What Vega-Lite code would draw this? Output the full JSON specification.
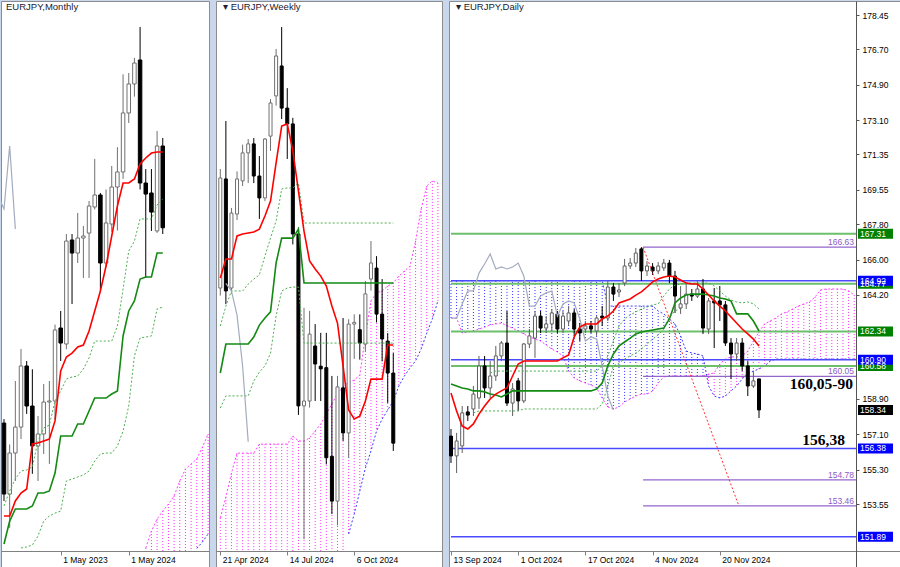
{
"$schema": "https://vega.github.io/schema/vega-lite/v6.json",
"padding": 0,
"background": "#c8d7ec",
"spacing": 7,
"bounds": "flush",
"config": {
 "view": {"stroke": "#8c8c8c", "fill": "#ffffff"},
 "scale": {"continuousPadding": 0},
 "axis": {"grid": false, "labelFont": "Liberation Sans", "labelFontSize": 8.5, "labelColor": "#000000", "domainColor": "#808080", "tickColor": "#808080", "titleFont": "Liberation Sans"},
 "text": {"font": "Liberation Sans"},
 "title": {"font": "Liberation Sans", "fontSize": 9.5, "fontWeight": "normal", "color": "#202030", "anchor": "start", "offset": -10, "frame": "group"}
},
"datasets": {
 "mc": [
  {"i":0,"o":141.72,"h":142.06,"l":135.09,"c":135.68},
  {"i":1,"o":135.68,"h":139.9,"l":132.8,"c":139.17},
  {"i":2,"o":139.17,"h":145.3,"l":136.79,"c":141.38},
  {"i":3,"o":141.38,"h":148.02,"l":140.36,"c":146.58},
  {"i":4,"o":146.58,"h":147.0,"l":142.5,"c":143.17},
  {"i":5,"o":143.17,"h":146.3,"l":137.4,"c":139.77},
  {"i":6,"o":139.77,"h":142.32,"l":136.79,"c":140.79},
  {"i":7,"o":140.79,"h":145.04,"l":139.09,"c":143.51},
  {"i":8,"o":143.51,"h":145.3,"l":138.24,"c":143.6},
  {"i":9,"o":143.6,"h":150.1,"l":142.0,"c":149.64},
  {"i":10,"o":149.81,"h":151.26,"l":147.0,"c":148.53},
  {"i":11,"o":148.45,"h":157.81,"l":148.0,"c":157.21},
  {"i":12,"o":157.3,"h":157.81,"l":151.85,"c":156.19},
  {"i":13,"o":156.19,"h":159.6,"l":155.34,"c":157.47},
  {"i":14,"o":157.47,"h":158.49,"l":154.07,"c":157.64},
  {"i":15,"o":157.89,"h":160.62,"l":154.07,"c":160.19},
  {"i":16,"o":160.11,"h":164.2,"l":159.9,"c":161.13},
  {"i":17,"o":161.13,"h":161.3,"l":152.96,"c":155.34},
  {"i":18,"o":155.34,"h":161.6,"l":155.0,"c":158.75},
  {"i":19,"o":158.66,"h":163.6,"l":158.0,"c":161.81},
  {"i":20,"o":161.81,"h":165.2,"l":158.1,"c":163.09},
  {"i":21,"o":163.09,"h":171.4,"l":162.5,"c":168.11},
  {"i":22,"o":168.11,"h":171.51,"l":167.26,"c":170.58},
  {"i":23,"o":170.58,"h":172.8,"l":169.5,"c":172.36},
  {"i":24,"o":172.62,"h":175.43,"l":161.6,"c":162.15},
  {"i":25,"o":162.15,"h":163.34,"l":154.07,"c":161.21},
  {"i":26,"o":161.3,"h":163.34,"l":158.07,"c":159.68},
  {"i":27,"o":158.07,"h":166.58,"l":157.9,"c":165.3},
  {"i":28,"o":165.3,"h":165.98,"l":157.81,"c":158.34}
 ],
 "ml": [
  {"i":-1,"ch":161.0},
  {"i":0,"t":133.81,"k":131.43,"u":134.66,"ch":159.94},
  {"i":1,"t":133.81,"k":133.38,"u":135.94,"ch":165.3},
  {"i":2,"t":135.09,"k":134.41,"u":136.96,"ch":158.24},
  {"i":3,"t":135.77,"k":134.41,"u":137.64,"w":131.09},
  {"i":4,"t":136.11,"k":134.41,"u":137.73,"w":131.17},
  {"i":5,"t":139.94,"k":134.66,"u":137.98,"w":131.34},
  {"i":6,"t":140.02,"k":135.77,"u":140.19,"w":132.11},
  {"i":7,"t":140.19,"k":135.77,"u":141.3,"w":133.38},
  {"i":8,"t":140.36,"k":135.94,"u":141.55,"w":133.81},
  {"i":9,"t":141.9,"k":137.47,"u":143.6,"w":134.06},
  {"i":10,"t":146.15,"k":140.62,"u":144.45,"w":134.23},
  {"i":11,"t":147.34,"k":140.62,"u":145.47,"w":136.79},
  {"i":12,"t":147.68,"k":140.62,"u":145.64,"w":136.96},
  {"i":13,"t":148.19,"k":141.64,"u":145.72,"w":137.13},
  {"i":14,"t":148.36,"k":141.64,"u":146.32,"w":137.3},
  {"i":15,"t":149.55,"k":142.75,"u":147.26,"w":137.64},
  {"i":16,"t":151.26,"k":143.85,"u":148.7,"w":138.49},
  {"i":17,"t":152.96,"k":143.85,"u":148.7,"w":139.09},
  {"i":18,"t":155.09,"k":143.85,"u":148.7,"w":139.17},
  {"i":19,"t":157.64,"k":144.19,"u":148.7,"w":139.17},
  {"i":20,"t":160.19,"k":144.45,"u":149.98,"w":139.77},
  {"i":21,"t":162.15,"k":149.13,"u":153.13,"w":141.04},
  {"i":22,"t":162.15,"k":151.26,"u":156.36,"w":143.17},
  {"i":23,"t":162.49,"k":152.11,"u":157.21,"w":147.43},
  {"i":24,"t":163.77,"k":153.98,"u":159.09,"w":148.96},
  {"i":25,"t":164.28,"k":154.15,"u":159.09,"w":149.04},
  {"i":26,"t":164.7,"k":154.15,"u":159.09,"w":149.13},
  {"i":27,"t":164.79,"k":156.19,"u":160.28,"w":151.43},
  {"i":28,"t":164.79,"k":156.19,"u":160.79,"w":151.6}
 ],
 "mk": [
  {"i":25,"a":131.09,"b":130.83},{"i":26,"a":132.53,"b":130.83},{"i":27,"a":133.55,"b":130.83},
  {"i":28,"a":134.23,"b":130.83},{"i":29,"a":134.83,"b":130.83},{"i":30,"a":135.51,"b":130.83},
  {"i":31,"a":136.79,"b":130.83},{"i":32,"a":137.81,"b":130.83},{"i":33,"a":138.24,"b":130.83},
  {"i":34,"a":138.66,"b":131.05},{"i":35,"a":139.68,"b":131.6},{"i":36,"a":140.79,"b":132.28}
 ],
 "wc": [
  {"i":0,"o":164.71,"h":169.6,"l":164.4,"c":169.23},
  {"i":1,"o":169.19,"h":171.57,"l":164.05,"c":164.59},
  {"i":2,"o":164.71,"h":168.0,"l":164.47,"c":167.79},
  {"i":3,"o":167.75,"h":169.5,"l":167.5,"c":169.19},
  {"i":4,"o":169.11,"h":170.6,"l":168.9,"c":170.26},
  {"i":5,"o":170.26,"h":170.83,"l":169.02,"c":170.63},
  {"i":6,"o":170.63,"h":170.87,"l":169.02,"c":169.31},
  {"i":7,"o":169.31,"h":170.13,"l":167.55,"c":168.41},
  {"i":8,"o":168.41,"h":170.87,"l":168.28,"c":170.83},
  {"i":9,"o":170.95,"h":172.47,"l":170.34,"c":172.31},
  {"i":10,"o":172.6,"h":174.53,"l":172.2,"c":174.24},
  {"i":11,"o":173.83,"h":175.43,"l":171.65,"c":172.1},
  {"i":12,"o":172.1,"h":172.92,"l":170.01,"c":171.45},
  {"i":13,"o":171.45,"h":171.7,"l":166.5,"c":166.93},
  {"i":14,"o":166.93,"h":167.2,"l":159.5,"c":159.87},
  {"i":15,"o":159.87,"h":163.9,"l":154.4,"c":160.07},
  {"i":16,"o":160.07,"h":163.77,"l":159.8,"c":162.82},
  {"i":17,"o":162.33,"h":163.23,"l":160.07,"c":161.59},
  {"i":18,"o":161.5,"h":162.87,"l":160.07,"c":161.39},
  {"i":19,"o":161.44,"h":162.87,"l":157.47,"c":157.74},
  {"i":20,"o":157.8,"h":161.1,"l":155.43,"c":155.96},
  {"i":21,"o":155.96,"h":161.1,"l":154.96,"c":160.65},
  {"i":22,"o":160.61,"h":163.48,"l":158.43,"c":158.76},
  {"i":23,"o":158.76,"h":163.43,"l":157.73,"c":163.23},
  {"i":24,"o":163.23,"h":163.63,"l":161.8,"c":163.3},
  {"i":25,"o":163.0,"h":163.63,"l":161.77,"c":162.45},
  {"i":26,"o":162.41,"h":165.0,"l":162.1,"c":164.47},
  {"i":27,"o":165.08,"h":166.64,"l":164.6,"c":165.74},
  {"i":28,"o":165.53,"h":166.02,"l":163.3,"c":163.64},
  {"i":29,"o":163.64,"h":165.08,"l":161.7,"c":162.62},
  {"i":30,"o":162.53,"h":162.86,"l":159.99,"c":161.22},
  {"i":31,"o":161.22,"h":162.04,"l":158.02,"c":158.34}
 ],
 "wl": [
  {"i":0,"t":165.12,"k":161.22,"u":163.15,"w":159.78},
  {"i":1,"t":165.9,"k":162.41,"u":163.97,"w":160.28,"ch":164.9},
  {"i":2,"t":165.9,"k":162.41,"u":164.59,"w":160.28,"ch":164.59},
  {"i":3,"t":166.85,"k":162.41,"u":164.59,"w":160.28,"ch":163.6},
  {"i":4,"t":166.93,"k":162.41,"u":164.59,"w":160.28,"ch":161.5},
  {"i":5,"t":166.97,"k":162.41,"u":164.87,"w":160.28,"ch":158.4},
  {"i":6,"t":167.01,"k":162.7,"u":165.08,"w":160.89},
  {"i":7,"t":167.13,"k":163.19,"u":165.25,"w":161.26},
  {"i":8,"t":167.67,"k":163.48,"u":166.03,"w":161.51},
  {"i":9,"t":168.28,"k":163.73,"u":166.76,"w":162.04},
  {"i":10,"t":169.85,"k":165.74,"u":167.46,"w":163.56},
  {"i":11,"t":171.36,"k":166.76,"u":168.78,"w":164.59},
  {"i":12,"t":171.45,"k":166.76,"u":168.82,"w":164.71},
  {"i":13,"t":170.34,"k":166.76,"u":168.82,"w":164.75},
  {"i":14,"t":168.7,"k":167.13,"u":169.02,"w":164.75},
  {"i":15,"t":167.05,"k":164.92,"u":167.38,"w":162.45},
  {"i":16,"t":165.82,"k":164.92,"u":167.38,"w":162.45},
  {"i":17,"t":165.49,"k":164.92,"u":167.38,"w":162.45},
  {"i":18,"t":165.2,"k":164.92,"u":167.38,"w":162.45},
  {"i":19,"t":164.79,"k":164.92,"u":167.38,"w":162.45},
  {"i":20,"t":163.97,"k":164.92,"u":167.38,"w":162.45},
  {"i":21,"t":163.27,"k":164.92,"u":167.38,"w":162.45},
  {"i":22,"t":161.51,"k":164.92,"u":167.38,"w":162.45},
  {"i":23,"t":159.7,"k":164.92,"u":167.38,"w":162.45},
  {"i":24,"t":159.33,"k":164.92,"u":167.38,"w":162.45},
  {"i":25,"t":159.45,"k":164.92,"u":167.38,"w":162.45},
  {"i":26,"t":160.07,"k":164.92,"u":167.38,"w":162.45},
  {"i":27,"t":160.97,"k":164.92,"u":167.38,"w":162.45},
  {"i":28,"t":160.97,"k":164.92,"u":167.38,"w":162.45},
  {"i":29,"t":160.97,"k":164.92,"u":167.38,"w":162.45},
  {"i":30,"t":162.37,"k":164.92,"u":167.38,"w":162.45},
  {"i":31,"t":162.37,"k":164.92,"u":167.38,"w":162.45}
 ],
 "wk": [
  {"i":0,"a":155.27,"b":153.91},{"i":1,"a":156.13,"b":153.91},{"i":2,"a":157.11,"b":153.91},
  {"i":3,"a":157.93,"b":153.91},{"i":4,"a":157.93,"b":153.91},{"i":5,"a":157.93,"b":153.91},
  {"i":6,"a":157.93,"b":153.91},{"i":7,"a":158.3,"b":153.91},{"i":8,"a":158.3,"b":153.91},
  {"i":9,"a":158.3,"b":153.91},{"i":10,"a":158.3,"b":153.91},{"i":11,"a":158.3,"b":153.91},
  {"i":12,"a":158.3,"b":153.91},{"i":13,"a":158.63,"b":153.91},{"i":14,"a":158.43,"b":153.91},
  {"i":15,"a":158.43,"b":153.91},{"i":16,"a":158.55,"b":153.91},{"i":17,"a":158.84,"b":153.91},
  {"i":18,"a":159.13,"b":153.91},{"i":19,"a":159.54,"b":153.91},{"i":20,"a":159.95,"b":153.91},
  {"i":21,"a":160.36,"b":153.91},{"i":22,"a":160.65,"b":153.91},{"i":23,"a":160.85,"b":154.61},
  {"i":24,"a":160.93,"b":155.43},{"i":25,"a":161.14,"b":156.37},{"i":26,"a":162.74,"b":157.32},
  {"i":27,"a":164.18,"b":158.02},{"i":28,"a":164.51,"b":158.84},{"i":29,"a":164.59,"b":159.33},
  {"i":30,"a":164.79,"b":159.7},{"i":31,"a":164.92,"b":160.07},{"i":32,"a":165.2,"b":160.69},
  {"i":33,"a":165.41,"b":161.1},{"i":34,"a":165.61,"b":161.43},{"i":35,"a":166.64,"b":161.72},
  {"i":36,"a":167.96,"b":162.21},{"i":37,"a":168.9,"b":162.86},{"i":38,"a":169.11,"b":163.44},
  {"i":39,"a":169.02,"b":164.18}
 ],
 "dc": [
  {"i":0,"o":157.01,"c":156.0,"h":157.37,"l":155.64},
  {"i":1,"o":156.0,"c":156.76,"h":157.17,"l":155.13},
  {"i":2,"o":156.51,"c":158.19,"h":158.54,"l":156.15},
  {"i":3,"o":158.24,"c":158.08,"h":158.54,"l":157.78},
  {"i":4,"o":158.39,"c":159.15,"h":159.56,"l":158.03},
  {"i":5,"o":158.95,"c":160.58,"h":161.09,"l":158.39},
  {"i":6,"o":160.58,"c":159.46,"h":161.09,"l":158.95},
  {"i":7,"o":159.46,"c":160.07,"h":160.83,"l":158.95},
  {"i":8,"o":160.07,"c":161.09,"h":161.6,"l":159.82},
  {"i":9,"o":161.09,"c":161.75,"h":161.85,"l":160.83},
  {"i":10,"o":161.75,"c":158.69,"h":163.38,"l":158.54},
  {"i":11,"o":158.69,"c":159.41,"h":159.71,"l":158.03},
  {"i":12,"o":159.82,"c":158.8,"h":159.97,"l":158.29},
  {"i":13,"o":158.8,"c":161.7,"h":161.75,"l":158.69},
  {"i":14,"o":161.7,"c":162.11,"h":162.46,"l":161.49},
  {"i":15,"o":162.0,"c":163.12,"h":163.38,"l":160.99},
  {"i":16,"o":163.12,"c":162.51,"h":163.38,"l":162.26},
  {"i":17,"o":162.51,"c":162.72,"h":163.12,"l":162.26},
  {"i":18,"o":162.72,"c":163.28,"h":163.48,"l":162.36},
  {"i":19,"o":163.23,"c":162.46,"h":163.38,"l":162.26},
  {"i":20,"o":162.46,"c":163.12,"h":163.38,"l":162.26},
  {"i":21,"o":162.87,"c":163.28,"h":163.63,"l":162.62},
  {"i":22,"o":163.28,"c":162.46,"h":163.48,"l":162.11},
  {"i":23,"o":162.46,"c":162.26,"h":162.77,"l":161.85},
  {"i":24,"o":162.46,"c":162.62,"h":162.87,"l":162.26},
  {"i":25,"o":162.62,"c":162.46,"h":162.87,"l":162.26},
  {"i":26,"o":162.36,"c":163.02,"h":163.12,"l":162.11},
  {"i":27,"o":163.12,"c":163.02,"h":163.63,"l":162.62},
  {"i":28,"o":163.02,"c":164.6,"h":164.91,"l":162.87},
  {"i":29,"o":164.6,"c":164.24,"h":164.8,"l":163.89},
  {"i":30,"o":164.35,"c":164.45,"h":164.8,"l":164.09},
  {"i":31,"o":164.8,"c":165.67,"h":166.03,"l":164.65},
  {"i":32,"o":165.67,"c":165.82,"h":166.08,"l":165.52},
  {"i":33,"o":165.82,"c":166.33,"h":166.59,"l":165.62},
  {"i":34,"o":166.54,"c":165.42,"h":166.63,"l":164.91},
  {"i":35,"o":165.42,"c":165.67,"h":165.92,"l":165.16},
  {"i":36,"o":165.62,"c":165.42,"h":165.82,"l":165.21},
  {"i":37,"o":165.42,"c":165.67,"h":165.87,"l":165.26},
  {"i":38,"o":165.57,"c":165.82,"h":166.03,"l":165.42},
  {"i":39,"o":165.82,"c":165.16,"h":165.98,"l":164.8},
  {"i":40,"o":165.16,"c":164.14,"h":165.42,"l":163.28},
  {"i":41,"o":163.53,"c":163.74,"h":164.65,"l":163.23},
  {"i":42,"o":163.74,"c":164.24,"h":164.8,"l":163.48},
  {"i":43,"o":164.24,"c":164.14,"h":164.5,"l":163.89},
  {"i":44,"o":164.14,"c":164.5,"h":164.91,"l":164.04},
  {"i":45,"o":164.5,"c":162.51,"h":165.01,"l":162.21},
  {"i":46,"o":162.46,"c":163.89,"h":164.04,"l":162.21},
  {"i":47,"o":163.89,"c":163.79,"h":164.55,"l":161.49},
  {"i":48,"o":163.89,"c":163.69,"h":164.65,"l":162.87},
  {"i":49,"o":163.69,"c":161.75,"h":163.89,"l":161.6},
  {"i":50,"o":161.75,"c":161.19,"h":162.0,"l":159.92},
  {"i":51,"o":161.19,"c":161.75,"h":162.0,"l":160.83},
  {"i":52,"o":161.75,"c":160.58,"h":162.0,"l":160.32},
  {"i":53,"o":160.58,"c":159.56,"h":160.83,"l":159.05},
  {"i":54,"o":159.56,"c":159.82,"h":160.32,"l":159.46},
  {"i":55,"o":159.92,"c":158.34,"h":159.92,"l":157.93}
 ],
 "dl": [
  {"i":0,"t":159.2,"k":159.66,"ch":163.02},
  {"i":1,"t":158.29,"k":159.56,"ch":163.02},
  {"i":2,"t":157.52,"k":159.46,"ch":163.74},
  {"i":3,"t":157.37,"k":159.41,"ch":164.4},
  {"i":4,"t":157.63,"k":159.31,"w":158.19,"ch":164.4},
  {"i":5,"t":158.13,"k":159.31,"w":158.29,"ch":165.31},
  {"i":6,"t":158.54,"k":159.26,"w":158.29,"ch":165.77},
  {"i":7,"t":158.9,"k":159.15,"u":160.22,"w":158.29,"ch":166.28},
  {"i":8,"t":159.15,"k":159.1,"u":160.32,"w":158.29,"ch":165.52},
  {"i":9,"t":159.31,"k":159.0,"u":160.32,"w":158.29,"ch":165.62},
  {"i":10,"t":159.46,"k":159.15,"u":160.32,"w":158.29,"ch":165.52},
  {"i":11,"t":160.07,"k":159.31,"u":160.32,"w":158.29,"ch":165.62},
  {"i":12,"t":160.68,"k":159.31,"u":160.32,"w":158.29,"ch":165.82},
  {"i":13,"t":160.83,"k":159.31,"u":160.32,"w":158.39,"ch":165.16},
  {"i":14,"t":160.83,"k":159.31,"u":160.32,"w":158.39,"ch":163.63},
  {"i":15,"t":160.83,"k":159.31,"u":160.32,"w":158.39,"ch":163.63},
  {"i":16,"t":160.83,"k":159.31,"u":160.32,"w":158.39,"ch":164.14},
  {"i":17,"t":160.83,"k":159.31,"u":160.32,"w":158.39,"ch":164.3},
  {"i":18,"t":160.83,"k":159.31,"u":160.32,"w":158.39,"ch":164.4},
  {"i":19,"t":160.83,"k":159.31,"u":160.32,"w":158.39,"ch":163.12},
  {"i":20,"t":160.99,"k":159.31,"u":160.32,"w":158.39,"ch":163.74},
  {"i":21,"t":161.14,"k":159.31,"u":160.32,"w":158.39,"ch":163.89},
  {"i":22,"t":162.06,"k":159.31,"u":160.32,"w":158.39,"ch":163.79},
  {"i":23,"t":162.56,"k":159.31,"u":160.32,"w":158.39,"ch":162.97},
  {"i":24,"t":162.72,"k":159.31,"u":160.32,"w":158.39,"ch":161.85},
  {"i":25,"t":162.72,"k":159.31,"u":160.32,"w":158.39,"ch":162.06},
  {"i":26,"t":162.72,"k":159.41,"u":160.32,"w":158.39,"ch":161.95},
  {"i":27,"t":162.97,"k":159.71,"u":160.58,"w":158.64,"ch":160.58},
  {"i":28,"t":163.12,"k":160.58,"u":161.09,"w":159.56,"ch":159.05},
  {"i":29,"t":163.38,"k":161.19,"u":161.85,"w":160.58,"ch":158.34},
  {"i":30,"t":163.79,"k":161.6,"u":162.62,"w":160.73},
  {"i":31,"t":163.89,"k":161.8,"u":162.97,"w":160.93},
  {"i":32,"t":163.99,"k":162.0,"u":163.18,"w":161.09},
  {"i":33,"t":164.19,"k":162.21,"u":163.33,"w":161.24},
  {"i":34,"t":164.35,"k":162.31,"u":163.48,"w":161.44},
  {"i":35,"t":164.6,"k":162.36,"u":163.58,"w":161.7},
  {"i":36,"t":164.86,"k":162.41,"u":163.69,"w":161.95},
  {"i":37,"t":165.01,"k":162.46,"u":163.74,"w":162.16},
  {"i":38,"t":165.11,"k":162.51,"u":164.14,"w":162.46},
  {"i":39,"t":165.16,"k":162.97,"u":164.5,"w":163.07},
  {"i":40,"t":165.11,"k":163.79,"u":164.7,"w":163.38},
  {"i":41,"t":164.96,"k":164.04,"u":164.75,"w":163.53},
  {"i":42,"t":164.8,"k":164.19,"u":164.8},
  {"i":43,"t":164.75,"k":164.24,"u":164.8},
  {"i":44,"t":164.75,"k":164.24,"u":164.8},
  {"i":45,"t":164.5,"k":164.24,"u":164.8},
  {"i":46,"t":164.19,"k":164.19,"u":164.8},
  {"i":47,"t":163.89,"k":164.14,"u":164.65},
  {"i":48,"t":163.63,"k":164.04,"u":164.4},
  {"i":49,"t":163.38,"k":163.99,"u":164.14},
  {"i":50,"t":163.07,"k":163.89,"u":163.94},
  {"i":51,"t":162.77,"k":163.23,"u":163.84},
  {"i":52,"t":162.46,"k":163.23,"u":163.79},
  {"i":53,"t":162.21,"k":163.23,"u":163.84},
  {"i":54,"t":161.95,"k":162.87,"u":163.74},
  {"i":55,"t":161.6,"k":162.36,"u":163.48}
 ],
 "dk": [
  {"i":0,"a":163.02,"b":164.92},{"i":1,"a":163.02,"b":164.92},{"i":2,"a":162.26,"b":164.92},
  {"i":3,"a":162.31,"b":164.92},{"i":4,"a":162.36,"b":164.92},{"i":5,"a":162.46,"b":164.92},
  {"i":6,"a":162.56,"b":164.92},{"i":7,"a":162.67,"b":164.92},{"i":8,"a":162.72,"b":164.92},
  {"i":9,"a":162.77,"b":164.92},{"i":10,"a":162.62,"b":164.92},{"i":11,"a":162.51,"b":164.92},
  {"i":12,"a":162.36,"b":164.92},{"i":13,"a":162.21,"b":164.92},{"i":14,"a":162.06,"b":164.92},
  {"i":15,"a":161.95,"b":164.92},{"i":16,"a":161.85,"b":164.92},{"i":17,"a":161.65,"b":164.92},
  {"i":18,"a":161.44,"b":164.92},{"i":19,"a":161.29,"b":164.92},{"i":20,"a":161.09,"b":164.92},
  {"i":21,"a":160.32,"b":164.92},{"i":22,"a":159.97,"b":164.92},{"i":23,"a":159.82,"b":164.92},
  {"i":24,"a":159.71,"b":164.92},{"i":25,"a":159.61,"b":164.92},{"i":26,"a":159.46,"b":164.92},
  {"i":27,"a":158.95,"b":164.92},{"i":28,"a":158.49,"b":163.63},{"i":29,"a":158.39,"b":163.63},
  {"i":30,"a":158.49,"b":163.63},{"i":31,"a":158.75,"b":163.63},{"i":32,"a":158.9,"b":163.63},
  {"i":33,"a":159.05,"b":163.63},{"i":34,"a":159.15,"b":163.63},{"i":35,"a":159.15,"b":163.63},
  {"i":36,"a":159.31,"b":163.63},{"i":37,"a":159.71,"b":163.38},{"i":38,"a":160.02,"b":163.23},
  {"i":39,"a":160.07,"b":162.97},{"i":40,"a":160.07,"b":162.72},{"i":41,"a":160.07,"b":162.11},
  {"i":42,"a":160.07,"b":161.34},{"i":43,"a":160.07,"b":161.24},{"i":44,"a":160.07,"b":161.19},
  {"i":45,"a":160.07,"b":161.09},{"i":46,"a":160.17,"b":159.56},{"i":47,"a":160.22,"b":159.05},
  {"i":48,"a":160.68,"b":158.95},{"i":49,"a":160.93,"b":159.05},{"i":50,"a":161.04,"b":159.31},
  {"i":51,"a":161.04,"b":159.56},{"i":52,"a":161.09,"b":159.92},{"i":53,"a":161.34,"b":160.22},
  {"i":54,"a":161.85,"b":160.32},{"i":55,"a":162.31,"b":160.43},{"i":56,"a":162.72,"b":160.58},
  {"i":57,"a":162.87,"b":160.83},{"i":58,"a":163.02,"b":160.93},{"i":59,"a":163.23,"b":160.93},
  {"i":60,"a":163.33,"b":160.93},{"i":61,"a":163.48,"b":160.93},{"i":62,"a":163.63,"b":160.93},
  {"i":63,"a":163.74,"b":160.93},{"i":64,"a":163.84,"b":160.93},{"i":65,"a":164.09,"b":160.93},
  {"i":66,"a":164.45,"b":160.93},{"i":67,"a":164.5,"b":160.93},{"i":68,"a":164.5,"b":160.93},
  {"i":69,"a":164.5,"b":160.93},{"i":70,"a":164.5,"b":160.93},{"i":71,"a":164.4,"b":160.93},
  {"i":72,"a":164.19,"b":160.93}
 ],
 "lv": [
  {"p":167.31,"f":0,"t":72.32,"k":"kijun"},
  {"p":166.63,"f":34.3,"t":72.32,"k":"target"},
  {"p":164.77,"f":0,"t":72.32,"k":"kijun"},
  {"p":164.92,"f":0,"t":72.32,"k":"cloud"},
  {"p":162.34,"f":0,"t":72.32,"k":"kijun"},
  {"p":160.58,"f":0,"t":72.32,"k":"kijun"},
  {"p":160.9,"f":0,"t":72.32,"k":"cloud"},
  {"p":160.05,"f":34.3,"t":72.32,"k":"target","note":"160,05-90"},
  {"p":158.34,"f":55,"t":72.32,"k":"price"},
  {"p":156.38,"f":0,"t":72.32,"k":"cloud","note":"156,38"},
  {"p":154.78,"f":34.3,"t":72.32,"k":"target"},
  {"p":153.46,"f":34.3,"t":72.32,"k":"target"},
  {"p":151.89,"f":0,"t":72.32,"k":"cloud"}
 ],
 "dg": [
  {"i":34.3,"p":166.63},
  {"i":51.4,"p":153.46}
 ]
},
"hconcat": [
 {
  "width": 208, "height": 567,
  "title": {"text": "EURJPY,Monthly", "dx": 5},
  "encoding": {"x": {"field": "i", "type": "quantitative", "scale": {"domain": [-0.529, 36.155], "nice": false, "zero": false, "padding": 0},
    "axis": {"values": [10, 22], "labelExpr": "datum.value == 10 ? '1 May 2023' : '1 May 2024'", "title": null, "offset": -17, "tickSize": 4, "labelAlign": "left", "labelBaseline": "top", "labelPadding": 0, "labelOffset": 2, "labelOverlap": false, "labelFlush": false, "grid": false}}},
  "layer": [
   {"data": {"name": "mk"}, "mark": {"type": "rule", "strokeDash": [1, 2], "strokeWidth": 1, "clip": true},
    "encoding": {"y": {"field": "a", "type": "quantitative", "scale": {"domain": [129.385, 177.64], "nice": false, "zero": false, "padding": 0}, "axis": null}, "y2": {"field": "b"},
     "color": {"condition": {"test": "datum.b > datum.a", "value": "#2b2bff"}, "value": "#ff2bff"}}},
   {"data": {"name": "mk"}, "mark": {"type": "line", "color": "#ff40ff", "strokeDash": [2, 2], "strokeWidth": 1, "clip": true},
    "encoding": {"y": {"field": "a", "type": "quantitative", "axis": null}}},
   {"data": {"name": "mk"}, "transform": [{"filter": "datum.b > 130.9"}], "mark": {"type": "line", "color": "#3a3aff", "strokeDash": [2, 2], "strokeWidth": 1, "clip": true},
    "encoding": {"y": {"field": "b", "type": "quantitative", "axis": null}}},
   {"data": {"name": "mc"}, "mark": {"type": "rule", "strokeWidth": 1, "clip": true},
    "encoding": {"y": {"field": "l", "type": "quantitative", "axis": null}, "y2": {"field": "h"},
     "color": {"condition": {"test": "datum.c >= datum.o", "value": "#707070"}, "value": "#000000"}}},
   {"data": {"name": "mc"}, "mark": {"type": "bar", "width": 3.5, "strokeWidth": 1, "clip": true},
    "encoding": {"y": {"field": "o", "type": "quantitative", "axis": null}, "y2": {"field": "c"},
     "fill": {"condition": {"test": "datum.c >= datum.o", "value": "#ffffff"}, "value": "#000000"},
     "stroke": {"condition": {"test": "datum.c >= datum.o", "value": "#707070"}, "value": "#000000"}}},
   {"data": {"name": "ml"}, "mark": {"type": "line", "color": "#4caf50", "strokeDash": [2, 2], "strokeWidth": 1, "clip": true},
    "encoding": {"y": {"field": "u", "type": "quantitative", "axis": null}}},
   {"data": {"name": "ml"}, "mark": {"type": "line", "color": "#4caf50", "strokeDash": [2, 2], "strokeWidth": 1, "clip": true},
    "encoding": {"y": {"field": "w", "type": "quantitative", "axis": null}}},
   {"data": {"name": "ml"}, "mark": {"type": "line", "color": "#a3abbd", "strokeWidth": 1.2, "clip": true},
    "encoding": {"y": {"field": "ch", "type": "quantitative", "axis": null}}},
   {"data": {"name": "ml"}, "mark": {"type": "line", "color": "#138a13", "strokeWidth": 1.6, "clip": true},
    "encoding": {"y": {"field": "k", "type": "quantitative", "axis": null}}},
   {"data": {"name": "ml"}, "mark": {"type": "line", "color": "#ff0000", "strokeWidth": 1.6, "clip": true},
    "encoding": {"y": {"field": "t", "type": "quantitative", "axis": null}}}
  ]
 },
 {
  "width": 226, "height": 567,
  "title": {"text": "▾ EURJPY,Weekly", "dx": 7},
  "encoding": {"x": {"field": "i", "type": "quantitative", "scale": {"domain": [-0.771, 39.73], "nice": false, "zero": false, "padding": 0},
    "axis": {"values": [0, 12, 24], "labelExpr": "datum.value == 0 ? '21 Apr 2024' : datum.value == 12 ? '14 Jul 2024' : '6 Oct 2024'", "title": null, "offset": -17, "tickSize": 4, "labelAlign": "left", "labelBaseline": "top", "labelPadding": 0, "labelOffset": 2, "labelOverlap": false, "labelFlush": false, "grid": false}}},
  "layer": [
   {"data": {"name": "wk"}, "mark": {"type": "rule", "strokeDash": [1, 2], "strokeWidth": 1, "clip": true},
    "encoding": {"y": {"field": "a", "type": "quantitative", "scale": {"domain": [153.213, 176.498], "nice": false, "zero": false, "padding": 0}, "axis": null}, "y2": {"field": "b"},
     "color": {"condition": {"test": "datum.b > datum.a", "value": "#2b2bff"}, "value": "#ff2bff"}}},
   {"data": {"name": "wk"}, "mark": {"type": "line", "color": "#ff40ff", "strokeDash": [2, 2], "strokeWidth": 1, "clip": true},
    "encoding": {"y": {"field": "a", "type": "quantitative", "axis": null}}},
   {"data": {"name": "wk"}, "transform": [{"filter": "datum.b > 153.95"}], "mark": {"type": "line", "color": "#3a3aff", "strokeDash": [2, 2], "strokeWidth": 1, "clip": true},
    "encoding": {"y": {"field": "b", "type": "quantitative", "axis": null}}},
   {"data": {"name": "wc"}, "mark": {"type": "rule", "strokeWidth": 1, "clip": true},
    "encoding": {"y": {"field": "l", "type": "quantitative", "axis": null}, "y2": {"field": "h"},
     "color": {"condition": {"test": "datum.c >= datum.o", "value": "#707070"}, "value": "#000000"}}},
   {"data": {"name": "wc"}, "mark": {"type": "bar", "width": 3, "strokeWidth": 1, "clip": true},
    "encoding": {"y": {"field": "o", "type": "quantitative", "axis": null}, "y2": {"field": "c"},
     "fill": {"condition": {"test": "datum.c >= datum.o", "value": "#ffffff"}, "value": "#000000"},
     "stroke": {"condition": {"test": "datum.c >= datum.o", "value": "#707070"}, "value": "#000000"}}},
   {"data": {"name": "wl"}, "mark": {"type": "line", "color": "#4caf50", "strokeDash": [2, 2], "strokeWidth": 1, "clip": true},
    "encoding": {"y": {"field": "u", "type": "quantitative", "axis": null}}},
   {"data": {"name": "wl"}, "mark": {"type": "line", "color": "#4caf50", "strokeDash": [2, 2], "strokeWidth": 1, "clip": true},
    "encoding": {"y": {"field": "w", "type": "quantitative", "axis": null}}},
   {"data": {"name": "wl"}, "mark": {"type": "line", "color": "#a3abbd", "strokeWidth": 1.2, "clip": true},
    "encoding": {"y": {"field": "ch", "type": "quantitative", "axis": null}}},
   {"data": {"name": "wl"}, "mark": {"type": "line", "color": "#138a13", "strokeWidth": 1.6, "clip": true},
    "encoding": {"y": {"field": "k", "type": "quantitative", "axis": null}}},
   {"data": {"name": "wl"}, "mark": {"type": "line", "color": "#ff0000", "strokeWidth": 1.6, "clip": true},
    "encoding": {"y": {"field": "t", "type": "quantitative", "axis": null}}}
  ]
 },
 {
  "width": 452, "height": 567,
  "title": {"text": "▾ EURJPY,Daily", "dx": 7},
  "encoding": {"x": {"field": "i", "type": "quantitative", "scale": {"domain": [-0.357, 80.357], "nice": false, "zero": false, "padding": 0},
    "axis": {"values": [0, 12, 24, 36, 48], "labelExpr": "datum.value == 0 ? '13 Sep 2024' : datum.value == 12 ? '1 Oct 2024' : datum.value == 24 ? '17 Oct 2024' : datum.value == 36 ? '4 Nov 2024' : '20 Nov 2024'", "title": null, "offset": -17, "tickSize": 4, "labelAlign": "left", "labelBaseline": "top", "labelPadding": 0, "labelOffset": 2, "labelOverlap": false, "labelFlush": false, "grid": false}}},
  "layer": [
   {"data": {"name": "dk"}, "mark": {"type": "rule", "strokeDash": [1, 2], "strokeWidth": 1, "clip": true},
    "encoding": {"y": {"field": "a", "type": "quantitative", "scale": {"domain": [150.293, 179.163], "nice": false, "zero": false, "padding": 0},
      "axis": {"orient": "right", "offset": -45, "values": [178.45, 176.7, 174.9, 173.1, 171.35, 169.55, 167.8, 166.0, 164.2, 158.9, 157.1, 155.3, 153.55], "format": ".2f", "tickSize": 3, "labelPadding": 3, "domainColor": "#555555", "tickColor": "#555555", "title": null, "grid": false, "labelOverlap": false, "labelFlush": false, "labelBaseline": "middle"}},
     "y2": {"field": "b"},
     "color": {"condition": {"test": "datum.b > datum.a", "value": "#2b2bff"}, "value": "#ff2bff"}}},
   {"data": {"name": "dk"}, "mark": {"type": "line", "color": "#ff40ff", "strokeDash": [2, 2], "strokeWidth": 1, "clip": true},
    "encoding": {"y": {"field": "a", "type": "quantitative"}}},
   {"data": {"name": "dk"}, "mark": {"type": "line", "color": "#3a3aff", "strokeDash": [2, 2], "strokeWidth": 1, "clip": true},
    "encoding": {"y": {"field": "b", "type": "quantitative"}}},
   {"data": {"name": "lv"}, "transform": [{"filter": "datum.k != 'price'"}], "mark": {"type": "rule", "clip": true},
    "encoding": {"x": {"field": "f", "type": "quantitative"}, "x2": {"field": "t"},
     "y": {"field": "p", "type": "quantitative"},
     "color": {"condition": [{"test": "datum.k == 'kijun'", "value": "#6cc06c"}, {"test": "datum.k == 'target'", "value": "#9466cc"}], "value": "#4a4aff"},
     "strokeWidth": {"condition": [{"test": "datum.k == 'kijun'", "value": 2}, {"test": "datum.k == 'target'", "value": 1.2}], "value": 1.5}}},
   {"data": {"name": "dc"}, "mark": {"type": "rule", "strokeWidth": 1, "clip": true},
    "encoding": {"y": {"field": "l", "type": "quantitative"}, "y2": {"field": "h"},
     "color": {"condition": {"test": "datum.c >= datum.o", "value": "#606060"}, "value": "#000000"}}},
   {"data": {"name": "dc"}, "mark": {"type": "bar", "width": 3, "strokeWidth": 1, "clip": true},
    "encoding": {"y": {"field": "o", "type": "quantitative"}, "y2": {"field": "c"},
     "fill": {"condition": {"test": "datum.c >= datum.o", "value": "#ffffff"}, "value": "#000000"},
     "stroke": {"condition": {"test": "datum.c >= datum.o", "value": "#606060"}, "value": "#000000"}}},
   {"data": {"name": "dl"}, "mark": {"type": "line", "color": "#4caf50", "strokeDash": [2, 2], "strokeWidth": 1, "clip": true},
    "encoding": {"y": {"field": "u", "type": "quantitative"}}},
   {"data": {"name": "dl"}, "mark": {"type": "line", "color": "#4caf50", "strokeDash": [2, 2], "strokeWidth": 1, "clip": true},
    "encoding": {"y": {"field": "w", "type": "quantitative"}}},
   {"data": {"name": "dl"}, "mark": {"type": "line", "color": "#a3abbd", "strokeWidth": 1.2, "clip": true},
    "encoding": {"y": {"field": "ch", "type": "quantitative"}}},
   {"data": {"name": "dl"}, "mark": {"type": "line", "color": "#138a13", "strokeWidth": 1.6, "clip": true},
    "encoding": {"y": {"field": "k", "type": "quantitative"}}},
   {"data": {"name": "dl"}, "mark": {"type": "line", "color": "#ff0000", "strokeWidth": 1.6, "clip": true},
    "encoding": {"y": {"field": "t", "type": "quantitative"}}},
   {"data": {"name": "dg"}, "mark": {"type": "line", "color": "#ff3030", "strokeDash": [2, 2], "strokeWidth": 1, "clip": true},
    "encoding": {"y": {"field": "p", "type": "quantitative"}}},
   {"data": {"name": "lv"}, "transform": [{"filter": "datum.k == 'target'"}], "mark": {"type": "text", "align": "right", "baseline": "alphabetic", "dx": -2, "dy": -2, "fontSize": 8.5, "color": "#8a5cc7"},
    "encoding": {"x": {"field": "t", "type": "quantitative"}, "y": {"field": "p", "type": "quantitative"},
     "text": {"field": "p", "type": "quantitative", "format": ".2f"}}},
   {"data": {"name": "lv"}, "transform": [{"filter": "datum.note == '160,05-90'"}], "mark": {"type": "text", "align": "right", "baseline": "alphabetic", "dx": -3, "dy": 12.5, "fontSize": 15.5, "font": "Liberation Serif", "fontWeight": "bold", "color": "#000000"},
    "encoding": {"x": {"field": "t", "type": "quantitative"}, "y": {"field": "p", "type": "quantitative"},
     "text": {"field": "note"}}},
   {"data": {"name": "lv"}, "transform": [{"filter": "datum.note == '156,38'"}], "mark": {"type": "text", "align": "right", "baseline": "alphabetic", "dx": -11, "dy": -3.5, "fontSize": 15.5, "font": "Liberation Serif", "fontWeight": "bold", "color": "#000000"},
    "encoding": {"x": {"field": "t", "type": "quantitative"}, "y": {"field": "p", "type": "quantitative"},
     "text": {"field": "note"}}},
   {"data": {"name": "lv"}, "transform": [{"filter": "datum.k != 'target'"}], "mark": {"type": "tick", "orient": "horizontal", "size": 35, "thickness": 10, "xOffset": 19.5, "opacity": 1},
    "encoding": {"x": {"field": "t", "type": "quantitative"}, "y": {"field": "p", "type": "quantitative"},
     "color": {"condition": [{"test": "datum.k == 'kijun'", "value": "#008000"}, {"test": "datum.k == 'price'", "value": "#000000"}], "value": "#0000ff"}}},
   {"data": {"name": "lv"}, "transform": [{"filter": "datum.k != 'target'"}], "mark": {"type": "text", "align": "left", "baseline": "middle", "dx": 4, "fontSize": 8.5, "color": "#ffffff"},
    "encoding": {"x": {"field": "t", "type": "quantitative"}, "y": {"field": "p", "type": "quantitative"},
     "text": {"field": "p", "type": "quantitative", "format": ".2f"}}}
  ]
 }
]
}
